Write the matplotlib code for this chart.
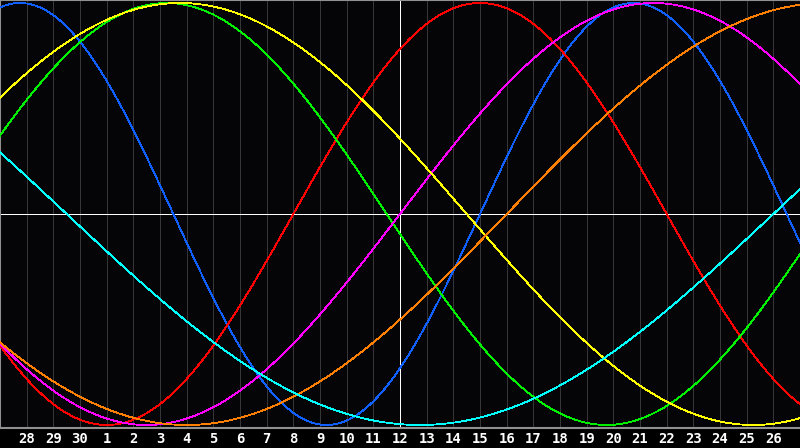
import numpy as np
import matplotlib
matplotlib.use('Agg')
import matplotlib.pyplot as plt

# biorhythm cycles: period in days, day index (0 = left edge) where the curve crosses zero going up
periods = [23, 28, 33, 38, 43, 48, 53]
zero_up_day = [18, 11, -2, 15, -4, 19, 29]
colors = ['#1060ff', '#ff0000', '#00f000', '#ff00ff', '#ffff00', '#ff8000', '#00ffff']

day_labels = ['28', '29', '30', '1', '2', '3', '4', '5', '6', '7', '8', '9', '10',
              '11', '12', '13', '14', '15', '16', '17', '18', '19', '20', '21',
              '22', '23', '24', '25', '26']
n_days = 30
today = 15  # day 12 is in the middle

fig = plt.figure(figsize=(8, 4.48), dpi=100, facecolor='black')
ax = fig.add_axes([0, 20 / 448, 1, 428 / 448])
ax.set_facecolor('#050508')

x = np.linspace(0, n_days, 801)
for p, z, c in zip(periods, zero_up_day, colors):
    ax.plot(x, np.sin(2 * np.pi * (x - z) / p), color=c, lw=0.6, antialiased=False, zorder=3)

# day grid
for d in range(1, n_days):
    ax.axvline(d, color='#363636', lw=0.6, antialiased=False, zorder=1)
ax.axvline(today, color='white', lw=0.7, antialiased=False, zorder=2)
ax.axhline(0, color='white', lw=0.7, antialiased=False, zorder=2)

ax.set_xlim(0, n_days)
ax.set_ylim(-214 / 211, 214 / 211)
ax.set_xticks([])
ax.set_yticks([])
for side in ['left', 'top', 'bottom']:
    ax.spines[side].set_color('#909090')
    ax.spines[side].set_linewidth(1.5)
ax.spines['right'].set_visible(False)

for i, lab in enumerate(day_labels):
    fig.text((i + 1) / n_days, 9 / 448, lab, color='white', fontsize=10,
             fontweight='bold', ha='center', va='center', family='DejaVu Sans Mono')

fig.savefig('out.png', dpi=100, facecolor='black')
